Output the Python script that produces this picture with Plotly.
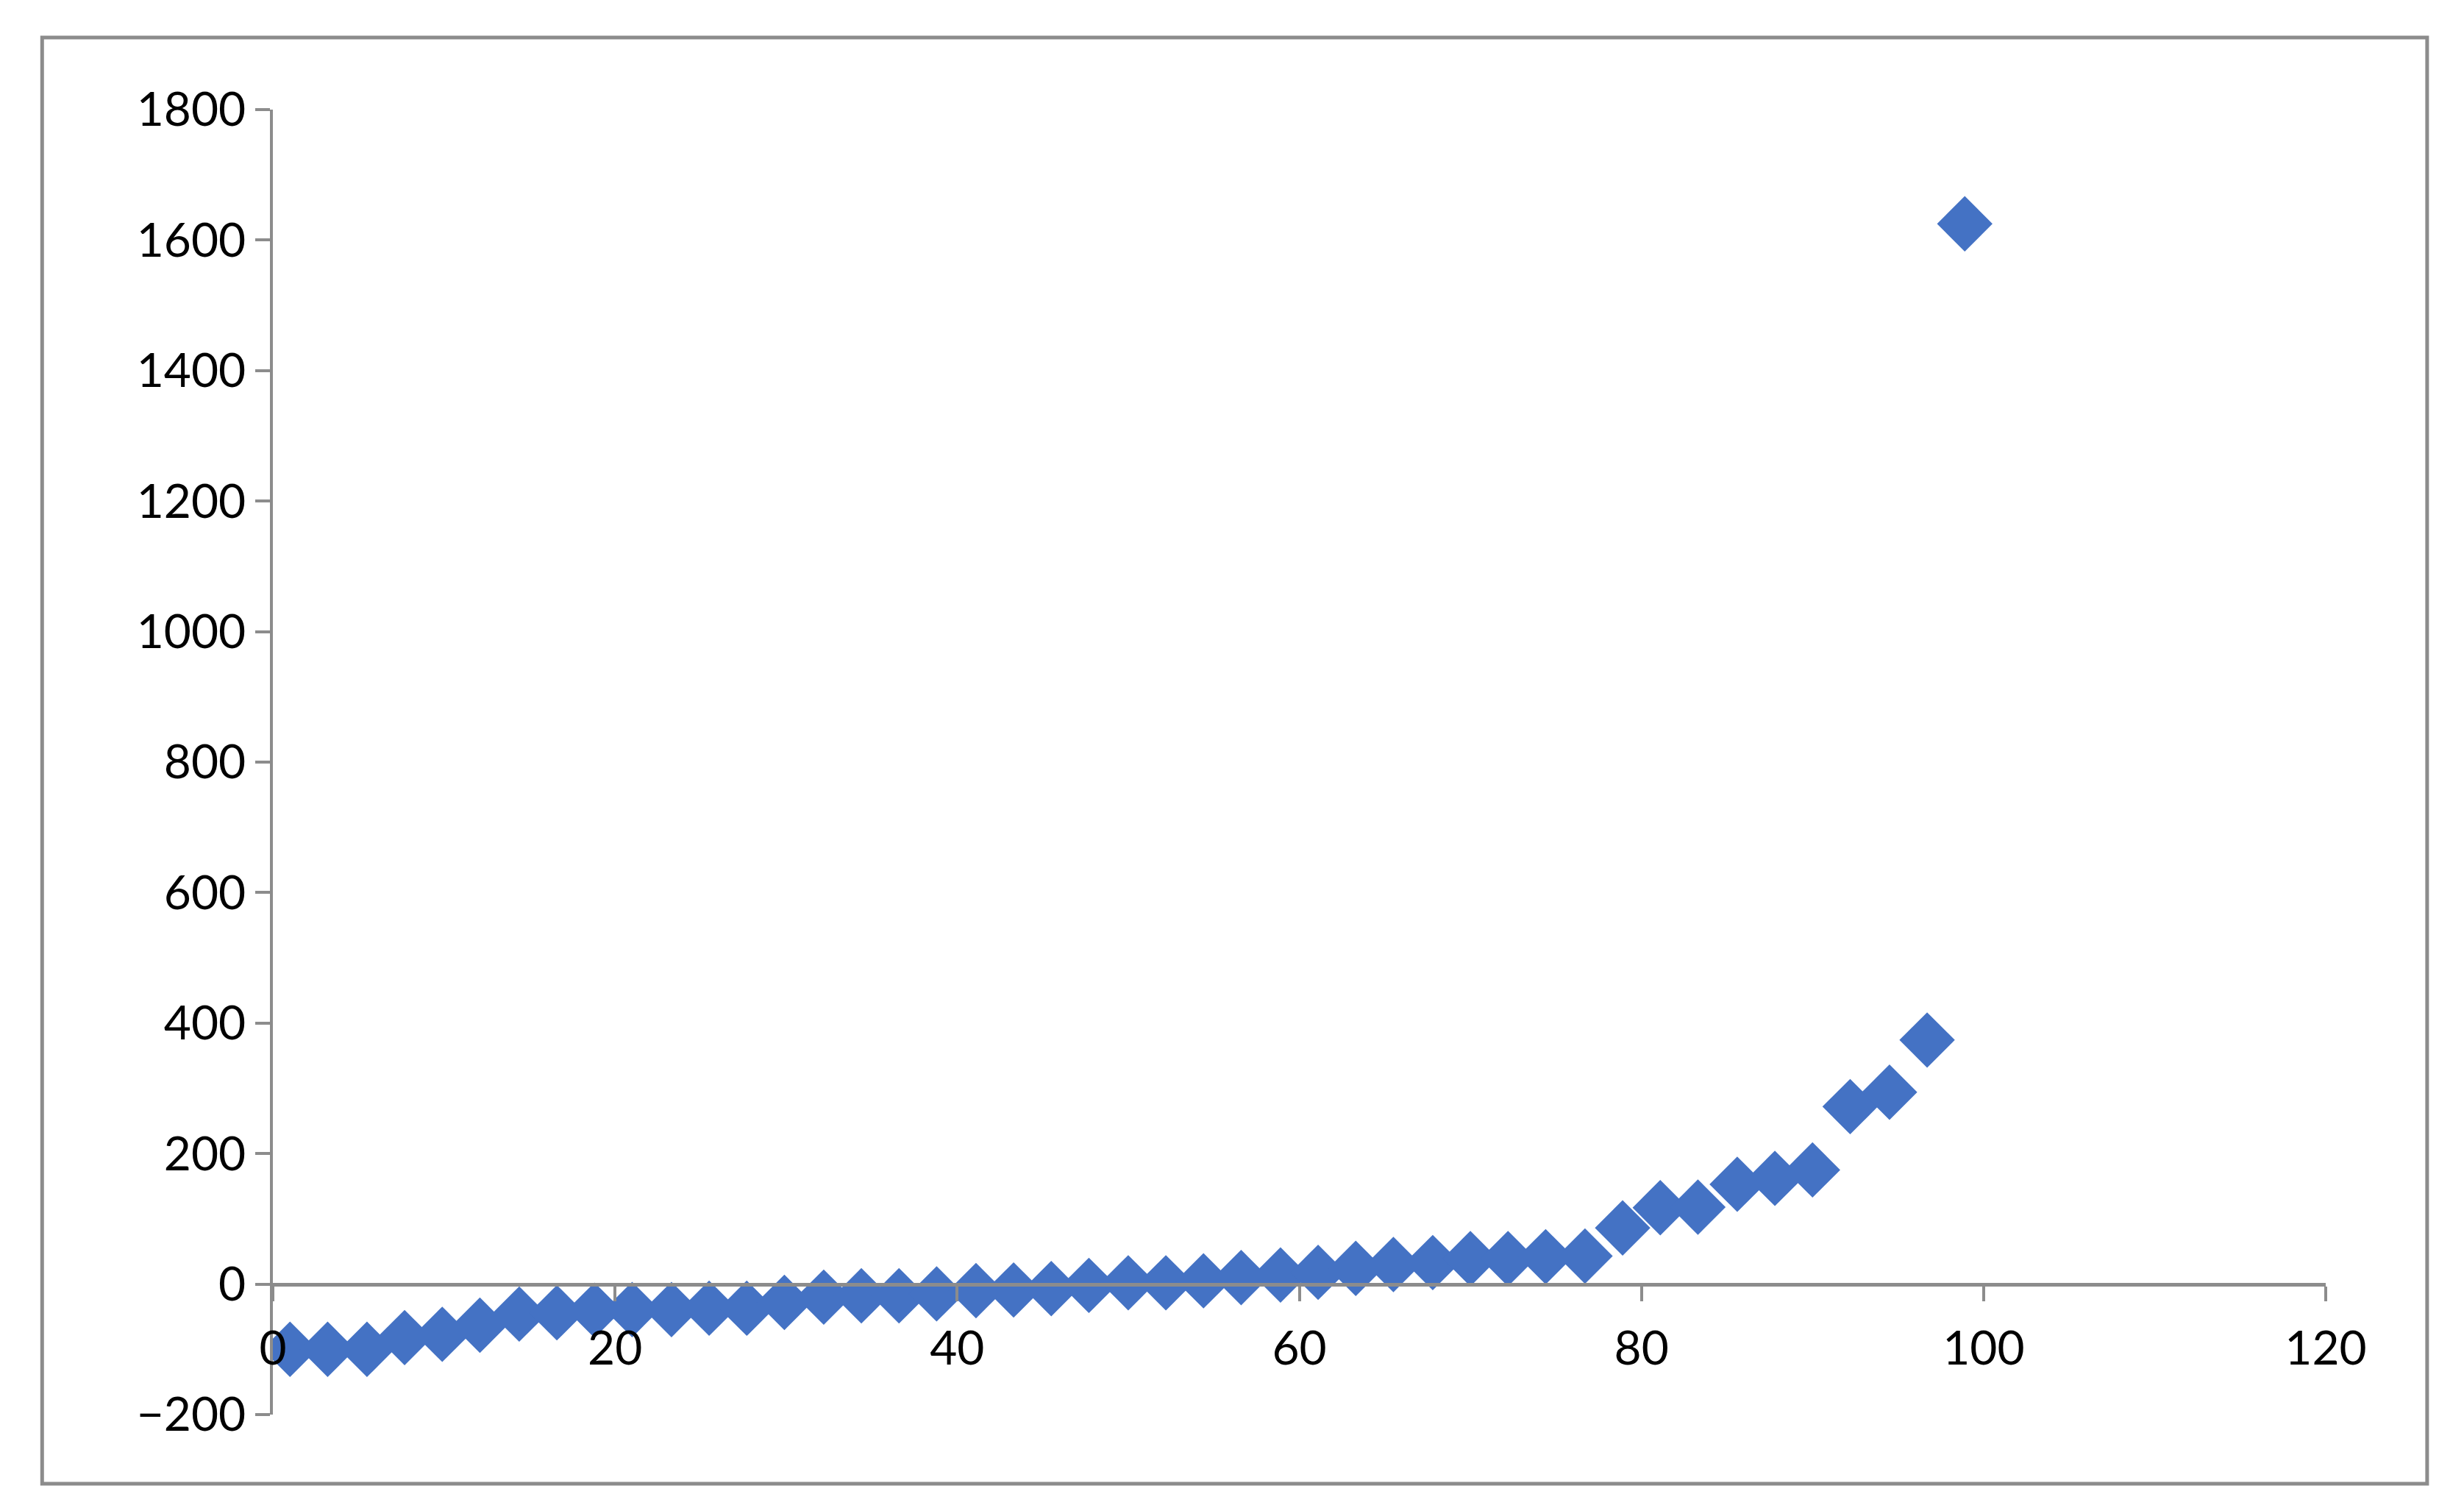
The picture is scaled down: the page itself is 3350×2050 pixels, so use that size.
import plotly.graph_objects as go

x_vals = [1.0,3.2,5.5,7.7,9.9,12.1,14.4,16.6,18.8,21.0,23.3,25.5,27.7,29.9,32.2,34.4,36.6,38.8,41.1,43.3,45.5,47.7,50.0,52.2,54.4,56.6,58.9,61.1,63.3,65.5,67.8,70.0,72.2,74.4,76.7,78.9,81.1,83.3,85.6,87.8,90.0,92.2,94.5,96.7,98.9]
y_vals = [-100,-100,-100,-82,-77,-63,-46,-44,-40,-39,-39,-37,-37,-28,-20,-18,-18,-15,-10,-9,-7,-2,2,2,5,10,14,18,24,30,33,39,39,42,43,86,117,118,153,162,175,272,294,374,1625]
x_ticks = [0, 20, 40, 60, 80, 100, 120]
y_ticks = [-200, 0, 200, 400, 600, 800, 1000, 1200, 1400, 1600, 1800]

grey = "#8c8c8c"
fig = go.Figure(go.Scatter(x=x_vals, y=y_vals, mode="markers",
                           marker=dict(symbol="diamond", size=58, color="#4472C4", line=dict(width=0))))
fig.update_layout(
    width=3350, height=2050, paper_bgcolor="white", plot_bgcolor="white",
    margin=dict(l=363, r=196, t=141, b=135), showlegend=False,
    font=dict(family="Lato", size=64, color="black"),
    xaxis=dict(range=[0, 120], tickvals=x_ticks, anchor="free", position=0.1,
               showline=True, linecolor=grey, linewidth=5, ticks="outside", ticklen=20,
               tickcolor=grey, tickwidth=4, showgrid=False, zeroline=False, ticklabelstandoff=10),
    yaxis=dict(range=[-200, 1800], tickvals=y_ticks, showline=True, linecolor=grey, linewidth=4,
               ticks="outside", ticklen=20, tickcolor=grey, tickwidth=4, showgrid=False,
               zeroline=False),
    shapes=[dict(type="rect", xref="paper", yref="paper", x0=-0.1124, x1=1.0494, y0=-0.053, y1=1.0552,
                 line=dict(color=grey, width=5))],
)
fig.write_html("out.html")
